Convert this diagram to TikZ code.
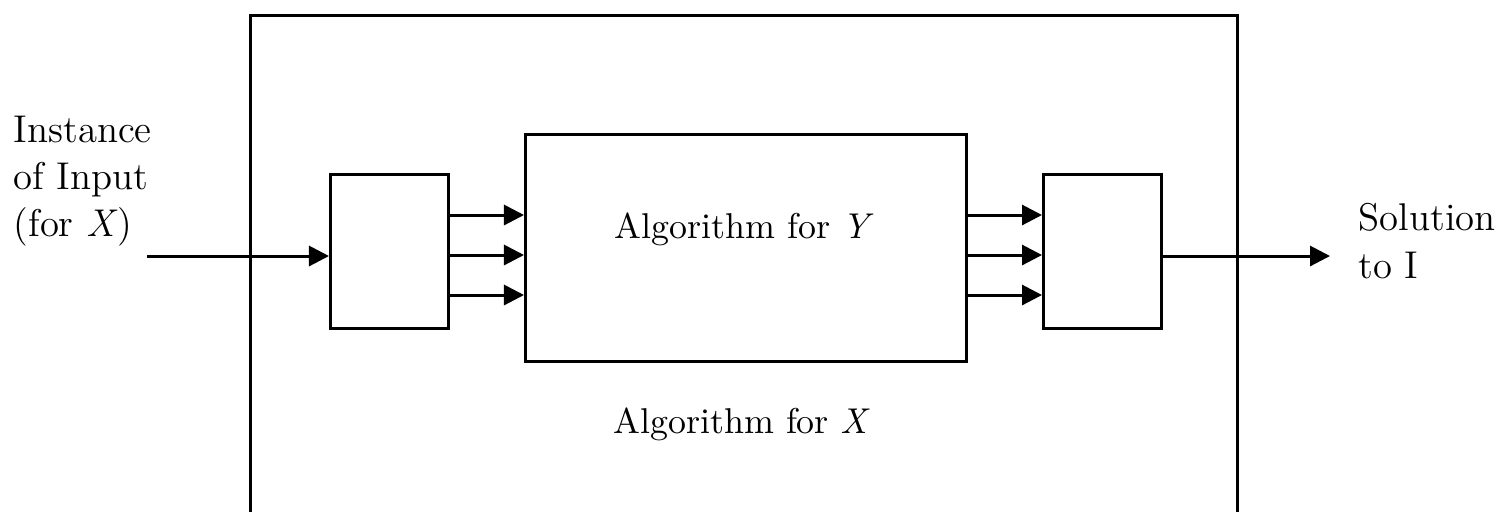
\documentclass[tikz,border=0pt]{standalone}
\usetikzlibrary{arrows.meta}
\begin{document}
\begin{tikzpicture}[x=0.01cm,y=-0.01cm,
  boxline/.style={draw=black,line width=0.85pt},
  blk/.style={boxline,rectangle,inner sep=0pt},
  conn/.style={line width=0.85pt,-{Triangle[length=0.2cm,width=0.2cm]}},
  lbl/.style={font=\fontsize{11}{13.4}\selectfont,inner sep=0pt,align=left},
  clbl/.style={font=\fontsize{10.2}{12.4}\selectfont,inner sep=0pt}]
\clip (0,0) rectangle (1501,511);
\fill[white] (0,0) rectangle (1501,511);
% outer box (bottom cut off)
\node[blk,minimum width=9.86cm,minimum height=5.40cm,anchor=north west] (outer) at (249,14) {};
% inner boxes
\node[blk,minimum width=1.18cm,minimum height=1.54cm,anchor=north west] (lb) at (329,173) {};
\node[blk,minimum width=4.41cm,minimum height=2.27cm,anchor=north west] (mb) at (524,133) {};
\node[blk,minimum width=1.18cm,minimum height=1.54cm,anchor=north west] (rb) at (1042,173) {};
% labels
\node[clbl,anchor=base] (ly) at (744,238) {Algorithm for \textit{Y}};
\node[clbl,anchor=base] (lx) at (742,433) {Algorithm for \textit{X}};
\node[lbl,anchor=north west] (inp) at (13,115) {Instance\\of Input\\(for \textit{X})};
\node[lbl,anchor=north west] (sol) at (1358,203) {Solution\\to I};
% connectors
\coordinate (src) at (147,256);
\coordinate (dst) at (1330,256);
\draw[conn] (src) -- (src -| lb.west);
\foreach \yy in {215,255,295}{
  \draw[conn] (lb.east |- 0,\yy) -- (mb.west |- 0,\yy);
  \draw[conn] (mb.east |- 0,\yy) -- (rb.west |- 0,\yy);
}
\draw[conn] (rb.east |- dst) -- (dst);
\end{tikzpicture}
\end{document}
